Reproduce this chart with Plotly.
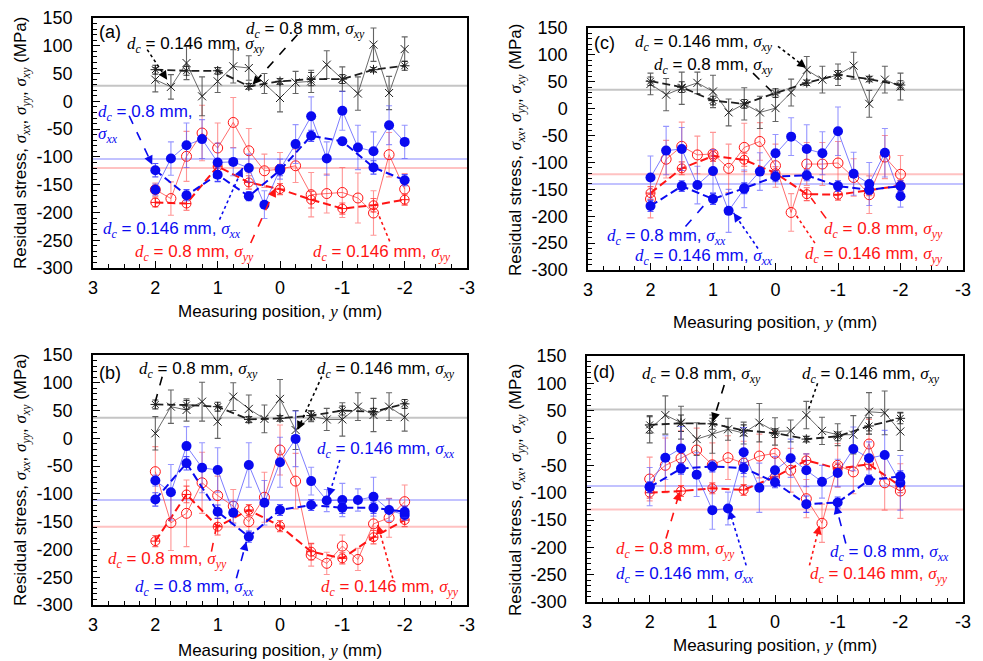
import plotly.graph_objects as go

# ---------------- data ----------------
x146 = [2, 1.75, 1.5, 1.25, 1, 0.75, 0.5, 0.25, 0, -0.25, -0.5, -0.75, -1, -1.25, -1.5, -1.75, -2]
x08 = [2, 1.5, 1, 0.5, 0, -0.5, -1, -1.5, -2]

x_tickvals = [3, 2, 1, 0, -1, -2, -3]
x_ticktext = ['3', '2', '1', '0', '-1', '-2', '-3']
y_tickvals = [150, 100, 50, 0, -50, -100, -150, -200, -250, -300]
y_ticktext = ['150', '100', '50', '0', '-50', '-100', '-150', '-200', '-250', '-300']

# panel (a)
a_xy146 = [39, 26, 69, 9, 36, 63, 60, 32, 6, 34, 36, 66, 40, 14, 102, 15, 94]
a_xy146_e = [22, 22, 30, 35, 20, 30, 22, 18, 25, 20, 20, 25, 22, 30, 30, 30, 22]
a_xy08 = [57, 55, 55, 27, 36, 40, 40, 57, 64]
a_xy08_e = [8, 8, 6, 5, 5, 12, 8, 4, 8]
a_xx146 = [-159, -103, -79, -68, -110, -109, -120, -186, -122, -77, -27, -103, -17, -83, -90, -43, -73]
a_xx146_e = [10, 30, 40, 35, 35, 25, 25, 25, 18, 35, 35, 30, 35, 40, 35, 35, 30]
a_xx08 = [-124, -169, -132, -171, -124, -62, -72, -119, -142]
a_xx08_e = [12, 10, 12, 8, 10, 10, 6, 12, 10]
a_yy146 = [-159, -175, -99, -57, -84, -38, -89, -125, -122, -116, -168, -166, -164, -174, -201, -96, -158]
a_yy146_e = [12, 30, 45, 50, 45, 45, 40, 30, 30, 30, 40, 35, 45, 45, 40, 40, 28]
a_yy08 = [-182, -184, -117, -146, -158, -177, -193, -187, -177]
a_yy08_e = [8, 12, 10, 12, 10, 15, 10, 12, 10]
a_ref = [28, -104, -120]  # xy, xx, yy

# panel (b)
b_xy146 = [9, 57, 51, 66, 30, 75, 53, 35, 71, 15, 40, 34, 34, 57, 42, 57, 38]
b_xy146_e = [30, 30, 20, 35, 30, 25, 25, 25, 35, 35, 10, 20, 30, 25, 30, 25, 25]
b_xy08 = [61, 60, 57, 34, 36, 41, 50, 48, 62]
b_xy08_e = [8, 8, 8, 5, 5, 8, 8, 6, 8]
b_xx146 = [-76, -97, -14, -53, -57, -134, -48, -116, -43, -1, -77, -112, -111, -111, -105, -129, -138]
b_xx146_e = [10, 50, 35, 45, 40, 20, 40, 40, 45, 50, 25, 20, 30, 20, 35, 20, 10]
b_xx08 = [-110, -45, -132, -177, -129, -120, -125, -125, -132]
b_xx08_e = [12, 12, 12, 10, 10, 10, 10, 10, 10]
b_yy146 = [-60, -152, -135, -80, -103, -122, -150, -106, -21, -77, -210, -225, -194, -218, -154, -143, -114]
b_yy146_e = [45, 50, 60, 55, 35, 30, 20, 45, 45, 50, 20, 20, 20, 20, 30, 35, 30]
b_yy08 = [-185, -101, -159, -129, -158, -204, -216, -178, -147]
b_yy08_e = [10, 15, 15, 10, 10, 15, 10, 12, 12]
b_ref = [37, -111, -159]

# panel (c)
c_xy146 = [46, 26, 38, 48, 32, -7, 9, -7, 1, 30, 72, 54, 63, 80, 9, 54, 41]
c_xy146_e = [20, 30, 30, 20, 30, 25, 30, 30, 25, 25, 25, 25, 20, 25, 25, 25, 25]
c_xy08 = [51, 40, 15, 9, 29, 48, 63, 55, 44]
c_xy08_e = [8, 10, 8, 8, 8, 5, 8, 5, 8]
c_xx146 = [-128, -78, -75, -142, -116, -190, -149, -117, -83, -52, -75, -83, -42, -121, -140, -82, -163]
c_xx146_e = [40, 45, 40, 35, 40, 40, 35, 35, 35, 35, 45, 40, 45, 40, 40, 45, 20]
c_xx08 = [-181, -144, -168, -148, -126, -124, -144, -151, -144]
c_xx08_e = [10, 10, 10, 10, 10, 10, 10, 8, 10]
c_yy146 = [-168, -94, -70, -86, -84, -111, -72, -61, -106, -193, -103, -103, -101, -128, -160, -90, -122]
c_yy146_e = [35, 35, 45, 35, 40, 45, 45, 35, 40, 35, 40, 40, 40, 35, 35, 40, 35]
c_yy08 = [-157, -111, -88, -95, -120, -159, -160, -152, -143]
c_yy08_e = [12, 12, 10, 12, 12, 12, 10, 10, 10]
c_ref = [35, -140, -122]

# panel (d)
d_xy146 = [16, 42, 28, -2, 7, 16, 9, 28, 12, 13, 42, 13, 6, 6, 48, 46, 12]
d_xy146_e = [25, 35, 30, 30, 35, 20, 20, 35, 25, 20, 25, 25, 20, 35, 35, 40, 35]
d_xy08 = [24, 27, 26, 14, 9, -2, 3, 22, 36]
d_xy08_e = [15, 15, 10, 10, 8, 5, 8, 15, 10]
d_xx146 = [-89, -36, -19, -67, -132, -129, -26, -91, -59, -37, -59, -80, -64, -20, -37, -31, -82]
d_xx146_e = [35, 40, 40, 40, 35, 30, 45, 45, 25, 35, 30, 30, 25, 40, 30, 45, 50]
d_xx08 = [-90, -56, -52, -55, -81, -121, -118, -77, -70]
d_xx08_e = [10, 10, 10, 10, 10, 15, 10, 8, 10]
d_yy146 = [-75, -50, -37, -22, -49, -36, -46, -33, -28, -59, -111, -156, -50, -62, -11, -82, -97]
d_yy146_e = [40, 50, 50, 40, 40, 40, 40, 40, 40, 40, 35, 35, 40, 40, 45, 50, 50]
d_yy08 = [-100, -97, -92, -95, -71, -41, -56, -48, -88]
d_yy08_e = [10, 10, 10, 10, 10, 12, 10, 10, 12]
d_ref = [52, -88, -131]

# ---------------- figure ----------------
W, H = 983, 661
fig = go.Figure()

def px_dom(a, b, total):
    return [a / total, b / total]

def py_dom(top, bottom):
    return [1 - bottom / H, 1 - top / H]

# axis index: a->1, c->2, b->3, d->4
frames = {
    1: dict(x=(93, 467), y=(18, 268)),
    2: dict(x=(588, 963), y=(28, 270)),
    3: dict(x=(93, 467), y=(355, 605)),
    4: dict(x=(587, 963), y=(356, 602)),
}

BLACK = 'rgb(30,30,30)'
BLUE = 'rgb(10,10,240)'
RED = 'rgb(255,20,20)'

def add_panel(idx, xy146, xy146e, xy08, xy08e, xx146, xx146e, xx08, xx08e, yy146, yy146e, yy08, yy08e, ref):
    xa = 'x' if idx == 1 else f'x{idx}'
    ya = 'y' if idx == 1 else f'y{idx}'
    for val, col in zip(ref, ['rgba(150,150,150,0.55)', 'rgba(120,120,255,0.45)', 'rgba(255,120,120,0.45)']):
        fig.add_shape(type='line', xref=f'{xa} domain', yref=ya, x0=0, x1=1, y0=val, y1=val,
                      line=dict(color=col, width=2), layer='below')
    def tr(x, y, e, lc, lw, dash, sym, msize, mcol, mlcol, ecol, mlw=1):
        fig.add_trace(go.Scatter(
            x=x, y=y, xaxis=xa, yaxis=ya, mode='lines+markers', showlegend=False,
            line=dict(color=lc, width=lw, dash=dash),
            marker=dict(symbol=sym, size=msize, color=mcol, line=dict(color=mlcol, width=mlw)),
            error_y=dict(type='data', array=e, visible=True, color=ecol, thickness=1.1, width=3),
        ))
    tr(x146, yy146, yy146e, 'rgba(255,60,60,0.75)', 1, 'solid', 'circle-open', 10, RED, 'rgba(255,40,40,0.9)', 'rgba(255,80,80,0.6)')
    tr(x08, yy08, yy08e, RED, 2, '8px,4px', 'circle-cross-open', 9, RED, RED, 'rgba(255,60,60,0.8)')
    tr(x146, xy146, xy146e, 'rgba(70,70,70,0.8)', 1, 'solid', 'x-thin-open', 8, BLACK, 'rgb(60,60,60)', 'rgba(60,60,60,0.8)')
    tr(x08, xy08, xy08e, BLACK, 1.8, '8px,4px', 'asterisk-open', 8, BLACK, BLACK, 'rgba(40,40,40,0.9)')
    tr(x146, xx146, xx146e, 'rgba(70,70,255,0.7)', 1, 'solid', 'circle', 10, BLUE, BLUE, 'rgba(80,80,255,0.6)', 0)
    tr(x08, xx08, xx08e, BLUE, 2, '8px,4px', 'circle', 10, BLUE, BLUE, 'rgba(40,40,255,0.8)', 0)

add_panel(1, a_xy146, a_xy146_e, a_xy08, a_xy08_e, a_xx146, a_xx146_e, a_xx08, a_xx08_e, a_yy146, a_yy146_e, a_yy08, a_yy08_e, a_ref)
add_panel(2, c_xy146, c_xy146_e, c_xy08, c_xy08_e, c_xx146, c_xx146_e, c_xx08, c_xx08_e, c_yy146, c_yy146_e, c_yy08, c_yy08_e, c_ref)
add_panel(3, b_xy146, b_xy146_e, b_xy08, b_xy08_e, b_xx146, b_xx146_e, b_xx08, b_xx08_e, b_yy146, b_yy146_e, b_yy08, b_yy08_e, b_ref)
add_panel(4, d_xy146, d_xy146_e, d_xy08, d_xy08_e, d_xx146, d_xx146_e, d_xx08, d_xx08_e, d_yy146, d_yy146_e, d_yy08, d_yy08_e, d_ref)

TICKFONT = dict(family='Liberation Sans, Arial, sans-serif', size=18, color='black')
layout = dict(width=W, height=H, margin=dict(l=0, r=0, t=0, b=0, autoexpand=False),
              paper_bgcolor='white', plot_bgcolor='white', showlegend=False)
for idx, fr in frames.items():
    xk = 'xaxis' if idx == 1 else f'xaxis{idx}'
    yk = 'yaxis' if idx == 1 else f'yaxis{idx}'
    xa = 'x' if idx == 1 else f'x{idx}'
    ya = 'y' if idx == 1 else f'y{idx}'
    layout[xk] = dict(domain=px_dom(fr['x'][0], fr['x'][1], W), anchor=ya, range=[3, -3],
                      tickmode='array', tickvals=x_tickvals, ticktext=x_ticktext,
                      ticks='inside', ticklen=7, tickwidth=1.2, tickcolor='black',
                      showline=True, linecolor='black', linewidth=1.5, mirror=True,
                      showgrid=False, zeroline=False, tickfont=TICKFONT, ticklabelstandoff=3,
                      minor=dict(ticks='inside', tickmode='linear', tick0=0, dtick=0.25, ticklen=4,
                                 tickwidth=1, tickcolor='black', showgrid=False))
    layout[yk] = dict(domain=py_dom(fr['y'][0], fr['y'][1]), anchor=xa, range=[-300, 150],
                      tickmode='array', tickvals=y_tickvals, ticktext=y_ticktext,
                      ticks='inside', ticklen=7, tickwidth=1.2, tickcolor='black',
                      showline=True, linecolor='black', linewidth=1.5, mirror=True,
                      showgrid=False, zeroline=False, tickfont=TICKFONT, ticklabelstandoff=15,
                      minor=dict(ticks='inside', tickmode='linear', tick0=0, dtick=10, ticklen=4,
                                 tickwidth=1, tickcolor='black', showgrid=False))
fig.update_layout(**layout)

SERIF = 'Liberation Serif, Times New Roman, serif'

def lab(dc, comp):
    return (f'<span style="font-family:{SERIF}"><i>d</i><sub><i>c</i></sub></span> = {dc} mm, '
            f'<span style="font-family:{SERIF}"><i>σ</i><sub><i>{comp}</i></sub></span>')

def sig(comp):
    return f'<span style="font-family:{SERIF}"><i>σ</i><sub><i>{comp}</i></sub></span>'

# label specs: (panel idx, text, tx, ty, x0, y0, x1, y1, color, dash, xanchor)
labels = [
    # (a)
    (1, lab('0.146', 'xy'), 1.35, 102, 2.13, 93, 1.81, 39, 'black', 'dot', 'center'),
    (1, lab('0.8', 'xy'), -0.41, 129, -0.28, 120, 0.44, 30, 'black', 'dash', 'center'),
    (1, f'<span style="font-family:{SERIF}"><i>d</i><sub><i>c</i></sub></span> = 0.8 mm,<br>' + sig('xx'),
        2.95, -40, 2.42, -26, 2.05, -114, BLUE, 'dash', 'left'),
    (1, lab('0.146', 'xx'), 1.74, -231, 0.97, -213, 0.60, -120, BLUE, 'dot', 'center'),
    (1, lab('0.8', 'yy'), 1.37, -273, 0.47, -255, 0.07, -156, RED, 'dash', 'center'),
    (1, lab('0.146', 'yy'), -1.64, -273, -1.76, -252, -1.57, -201, RED, 'dot', 'center'),
    # (c)
    (2, lab('0.146', 'xy'), 1.15, 122, -0.04, 116, -0.49, 76, 'black', 'dot', 'center'),
    (2, lab('0.8', 'xy'), 1.0, 79, 0.36, 66, 0.06, 32, 'black', 'dash', 'center'),
    (2, lab('0.8', 'xx'), 1.74, -238, 1.44, -219, 1.07, -170, BLUE, 'dash', 'center'),
    (2, lab('0.146', 'xx'), 1.15, -275, 0.28, -260, 0.67, -194, BLUE, 'dot', 'center'),
    (2, lab('0.8', 'yy'), -1.72, -225, -0.81, -204, -0.57, -166, RED, 'dash', 'center'),
    (2, lab('0.146', 'yy'), -1.57, -272, -0.63, -250, -0.33, -198, RED, 'dot', 'center'),
    # (b)
    (3, lab('0.8', 'xy'), 1.30, 123, 1.89, 111, 2.0, 66, 'black', 'dash', 'center'),
    (3, lab('0.146', 'xy'), -1.70, 123, -0.67, 111, -0.28, 15, 'black', 'dot', 'center'),
    (3, lab('0.146', 'xx'), -1.70, -21, -0.96, -39, -0.78, -105, BLUE, 'dot', 'center'),
    (3, lab('0.8', 'yy'), 1.81, -219, 1.10, -204, 1.02, -159, RED, 'dash', 'center'),
    (3, lab('0.8', 'xx'), 1.37, -270, 0.70, -252, 0.54, -186, BLUE, 'dash', 'center'),
    (3, lab('0.146', 'yy'), -1.76, -270, -1.81, -252, -1.57, -156, RED, 'dot', 'center'),
    # (d)
    (4, lab('0.8', 'xy'), 1.18, 115, 0.81, 97, 0.99, 30, 'black', 'dash', 'center'),
    (4, lab('0.146', 'xy'), -1.53, 115, -0.68, 100, -0.52, 48, 'black', 'dot', 'center'),
    (4, lab('0.8', 'yy'), 1.59, -205, 1.74, -184, 1.52, -98, RED, 'dash', 'center'),
    (4, lab('0.146', 'xx'), 1.44, -251, 0.46, -233, 0.73, -132, BLUE, 'dot', 'center'),
    (4, lab('0.8', 'xx'), -1.82, -211, -1.13, -193, -0.97, -123, BLUE, 'dash', 'center'),
    (4, lab('0.146', 'yy'), -1.66, -251, -0.55, -233, -0.71, -160, RED, 'dot', 'center'),
]

ANNFONT = dict(family='Liberation Sans, Arial, sans-serif', size=17)
for (idx, text, tx, ty, x0, y0, x1, y1, col, dash, xanch) in labels:
    xa = 'x' if idx == 1 else f'x{idx}'
    ya = 'y' if idx == 1 else f'y{idx}'
    fig.add_shape(type='line', xref=xa, yref=ya, x0=x0, y0=y0, x1=x1, y1=y1,
                  line=dict(color=col, width=1.6, dash=dash))
    fig.add_annotation(xref=xa, yref=ya, axref=xa, ayref=ya, x=x1, y=y1,
                       ax=x1 + (x0 - x1) * 0.12, ay=y1 + (y0 - y1) * 0.12, text='',
                       showarrow=True, arrowhead=2, arrowsize=1.1, arrowwidth=1.6, arrowcolor=col, standoff=0)
    fig.add_annotation(xref=xa, yref=ya, x=tx, y=ty, text=text, showarrow=False,
                       xanchor=xanch, yanchor='middle', align='left',
                       font=dict(ANNFONT, color=col))

# panel letters
for idx, letter, ly in [(1, '(a)', 125), (2, '(c)', 122), (3, '(b)', 118), (4, '(d)', 120)]:
    xa = 'x' if idx == 1 else f'x{idx}'
    ya = 'y' if idx == 1 else f'y{idx}'
    fig.add_annotation(xref=xa, yref=ya, x=2.93, y=ly, text=letter, showarrow=False,
                       xanchor='left', yanchor='middle', font=dict(ANNFONT, size=18, color='black'))

# axis titles
ytitle = ('Residual stress, ' + sig('xx') + ', ' + sig('yy') + ', ' + sig('xy') + ' (MPa)')
xtitle = f'Measuring position, <span style="font-family:{SERIF}"><i>y</i></span> (mm)'
TITLEFONT = dict(family='Liberation Sans, Arial, sans-serif', size=17, color='black')
for (yx, yy) in [(22, 143), (517, 150), (22, 480), (517, 490)]:
    fig.add_annotation(xref='paper', yref='paper', x=yx / W, y=1 - yy / H, text=ytitle,
                       textangle=-90, showarrow=False, xanchor='center', yanchor='middle', font=TITLEFONT)
for (tx, ty) in [(280, 312), (775, 322), (280, 650), (775, 645)]:
    fig.add_annotation(xref='paper', yref='paper', x=tx / W, y=1 - ty / H, text=xtitle,
                       showarrow=False, xanchor='center', yanchor='middle', font=TITLEFONT)

fig.write_html('out.html',
               post_script="document.body.style.margin='0';document.body.style.overflow='hidden';")
